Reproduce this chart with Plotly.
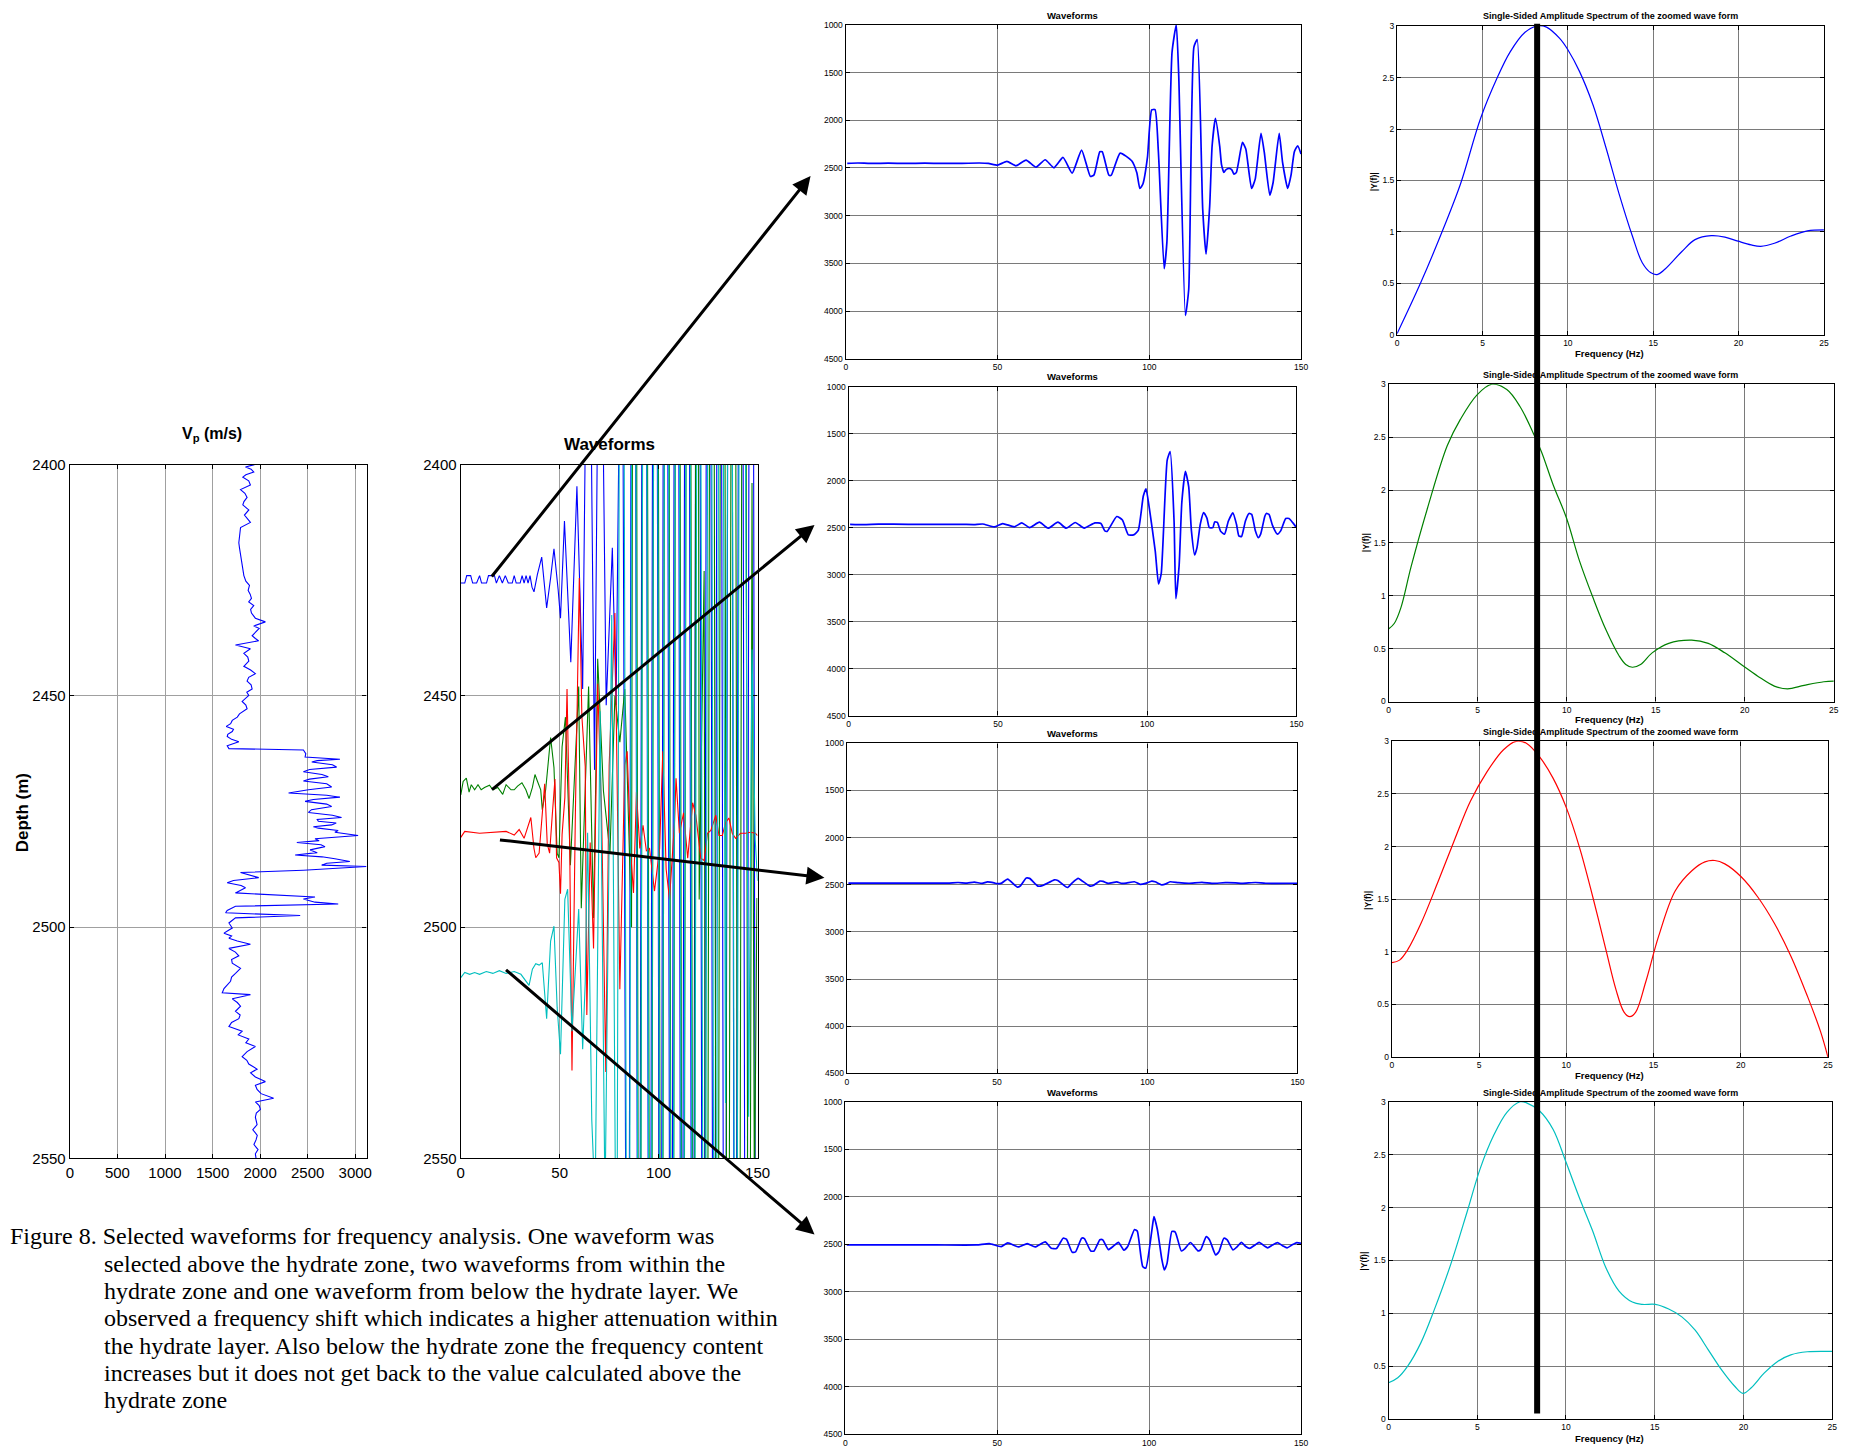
import plotly.graph_objects as go

W, H = 1861, 1454

# ---------------------------------------------------------------- data
# Vp log: (depth m, Vp m/s)
VP_LOG = [
    (2400.0, 1940), (2400.5, 1846), (2401.0, 1905), (2401.6, 1933), (2402.2, 1850), (2402.7, 1818),
    (2403.5, 1880), (2404.4, 1898), (2405.4, 1794), (2406.2, 1840), (2407.1, 1863), (2408.0, 1830),
    (2408.7, 1818), (2409.8, 1881), (2410.9, 1835), (2411.7, 1870), (2412.5, 1898), (2413.6, 1794),
    (2415.3, 1783), (2416.9, 1776), (2418.0, 1783), (2419.6, 1797), (2421.8, 1811), (2424.0, 1829),
    (2425.2, 1850), (2426.1, 1888), (2427.2, 1874), (2428.0, 1895), (2428.9, 1909), (2429.7, 1880),
    (2430.5, 1933), (2431.3, 1900), (2432.1, 1909), (2433.2, 1950), (2434.0, 2055), (2434.9, 1933),
    (2435.4, 1990), (2435.9, 1968), (2437.0, 1916), (2437.6, 1950), (2438.1, 1985), (2439.0, 1741),
    (2439.8, 1898), (2440.8, 1829), (2441.6, 1870), (2442.5, 1881), (2443.6, 1829), (2444.4, 1900),
    (2445.2, 1950), (2446.0, 1880), (2446.8, 1863), (2447.6, 1905), (2448.5, 1916), (2449.2, 1860),
    (2449.9, 1881), (2451.2, 1811), (2452.0, 1850), (2452.8, 1863), (2453.9, 1783), (2454.6, 1760),
    (2455.3, 1707), (2456.0, 1690), (2456.6, 1644), (2457.2, 1720), (2457.7, 1707), (2458.3, 1660),
    (2458.8, 1654), (2459.4, 1700), (2459.9, 1776), (2460.8, 1654), (2461.4, 1672),
    (2461.7, 2455), (2462.5, 2480), (2463.2, 2473), (2463.7, 2839), (2464.0, 2600), (2464.3, 2543),
    (2464.9, 2760), (2465.4, 2804), (2465.9, 2520), (2466.4, 2455), (2467.0, 2650), (2467.5, 2717),
    (2468.0, 2520), (2468.4, 2455), (2469.0, 2700), (2469.7, 2752), (2470.3, 2508), (2471.0, 2299),
    (2471.5, 2700), (2471.9, 2839), (2472.4, 2560), (2472.8, 2473), (2473.4, 2700), (2473.9, 2752),
    (2474.6, 2540), (2475.2, 2508), (2475.8, 2760), (2476.3, 2856), (2476.7, 2600), (2477.1, 2612),
    (2477.5, 2800), (2477.9, 2752), (2478.3, 2560), (2478.6, 2612), (2479.1, 2820), (2479.5, 2786),
    (2480.2, 3030), (2480.9, 2577), (2481.3, 2620), (2481.7, 2386), (2482.2, 2640), (2482.6, 2682),
    (2483.3, 2525), (2483.9, 2600), (2484.4, 2368), (2484.8, 2650), (2485.2, 2786), (2485.8, 2943),
    (2486.2, 2700), (2486.6, 2647), (2486.9, 3117), (2487.7, 2455), (2488.2, 1794), (2488.8, 1900),
    (2489.3, 1985), (2489.9, 1720), (2490.4, 1654), (2491.0, 1800), (2491.5, 1846), (2492.6, 1741),
    (2493.5, 2577), (2493.9, 2455), (2494.6, 2577), (2495.0, 2821), (2495.5, 1741), (2496.4, 1654),
    (2496.9, 1637), (2497.5, 2421), (2498.0, 1741), (2499.1, 1672), (2500.2, 1707), (2500.8, 1660),
    (2501.3, 1620), (2501.9, 1700), (2502.4, 1672), (2503.0, 1760), (2503.7, 1898), (2504.6, 1672),
    (2505.4, 1740), (2506.2, 1776), (2507.0, 1700), (2507.8, 1707), (2508.9, 1794), (2510.0, 1741),
    (2510.8, 1700), (2511.7, 1689), (2512.5, 1650), (2513.3, 1620), (2514.2, 1602), (2514.6, 1898),
    (2515.5, 1707), (2516.3, 1760), (2517.1, 1794), (2518.2, 1741), (2519.0, 1790), (2519.8, 1776),
    (2520.6, 1700), (2521.5, 1672), (2522.5, 1811), (2523.3, 1770), (2524.2, 1881), (2525.0, 1850),
    (2525.8, 1950), (2526.9, 1863), (2528.0, 1811), (2528.8, 1860), (2529.6, 1881), (2530.7, 1968),
    (2531.5, 1900), (2532.4, 1950), (2533.4, 2055), (2534.2, 1950), (2535.1, 1968), (2536.0, 2010),
    (2537.0, 2142), (2537.8, 1950), (2538.6, 1990), (2539.4, 2003), (2540.2, 1960), (2541.1, 1950),
    (2542.7, 1968), (2543.8, 1923), (2545.0, 1970), (2546.0, 1957), (2547.0, 1935), (2548.1, 1978),
    (2549.0, 1950), (2550.0, 1957),
]

# Composite waveform panel: (sample, depth)
MULTI_BLUE = [
    (0, 2425.6), (2, 2425.6), (3, 2424), (5, 2424), (6, 2425.6), (8, 2425.6), (9.5, 2424), (10.5, 2425.6),
    (13, 2425.6), (14, 2424), (17, 2424), (18, 2425.6), (19.5, 2424), (21, 2425.6), (22.5, 2424),
    (24, 2425.6), (26, 2425.6), (27, 2424), (28, 2425.6), (30, 2425.6), (31, 2424), (32, 2425.6),
    (33, 2424), (34, 2425.6), (35, 2424), (36, 2426.5), (37, 2427.5), (38.7, 2423.8), (40.9, 2420.0),
    (42.5, 2428), (43.4, 2431.0), (45.4, 2424.5), (47.1, 2418.2), (49.2, 2427), (50.4, 2433.2),
    (52.4, 2412.2), (55.6, 2442.7), (58.7, 2404.7), (61.6, 2448.5), (64.5, 2330), (67.6, 2466),
    (70.3, 2330), (73.5, 2452), (76.6, 2418), (78.5, 2452), (81.5, 2330),
    (84.5, 2700), (87.2, 2150), (89.9, 2700), (92.8, 2150), (95.4, 2700), (98.1, 2150), (100.9, 2700),
    (103.4, 2150), (106.2, 2700), (109.1, 2150), (111.6, 2700), (114.3, 2150), (117.2, 2700),
    (119.8, 2150), (122.5, 2700), (125.3, 2150), (127.9, 2700), (130.6, 2150), (133.4, 2700),
    (136.1, 2150), (138.7, 2700), (141.5, 2150), (144.2, 2700), (146.8, 2150), (149.5, 2700),
]
MULTI_GREEN = [
    (0, 2471.4), (1.2, 2468.5), (2.8, 2467.8), (4.2, 2470.8), (5.3, 2469.2), (7, 2470.3), (8.7, 2469.2),
    (10.3, 2470.3), (12, 2469.8), (14.5, 2469.3), (16.2, 2470.3), (18.7, 2469.8), (21.2, 2471.3),
    (22.9, 2469.2), (25.4, 2470.3), (27, 2470.3), (28.7, 2469.5), (30.9, 2468.8), (32.9, 2470.3),
    (34.5, 2472.2), (36.2, 2469.8), (37.5, 2467.0), (38.7, 2468.4), (40.4, 2470.3), (41.2, 2474.6),
    (42.9, 2470.3), (45.4, 2459), (47.1, 2465.5), (48.7, 2484), (49.6, 2485), (51.2, 2461),
    (52.9, 2454.6), (55.4, 2486.6), (57.1, 2470.5), (59.6, 2448), (60.9, 2495.9), (62.9, 2471.7),
    (64.6, 2448), (67.1, 2498), (69.2, 2442), (72.1, 2470.5), (75.4, 2484), (77.9, 2450), (80.4, 2460),
    (82.9, 2448.5), (84.6, 2471.7), (86.3, 2500),
    (87.8, 2150), (90.3, 2700), (93.1, 2150), (96.0, 2700), (98.6, 2150), (101.5, 2700), (104.1, 2150),
    (106.9, 2700), (109.7, 2150), (112.3, 2700), (115.1, 2150), (117.8, 2700), (119.4, 2150),
    (120.5, 2494), (123.0, 2423), (124.2, 2700), (126.9, 2150), (129.6, 2700), (132.4, 2150),
    (135.0, 2700), (137.8, 2150), (140.5, 2700), (143.2, 2150), (145.6, 2700), (147.2, 2404),
    (148.4, 2560), (149.7, 2493.7),
]
MULTI_RED = [
    (0, 2480.6), (2, 2479.3), (9.5, 2479.7), (19.5, 2479.5), (22.9, 2479.3), (27, 2480.1), (29.5, 2478.9),
    (32, 2480.8), (33.7, 2478.6), (35.4, 2476.3), (37, 2483), (37.9, 2485), (39.6, 2484), (41.2, 2475.5),
    (42.4, 2469), (43.7, 2482), (44.9, 2484), (46.2, 2476), (47.6, 2468), (48.4, 2485), (49.6, 2486),
    (50.4, 2492.8), (51.2, 2480), (52.6, 2472), (53.7, 2448.5), (54.9, 2476), (56.2, 2531), (57.9, 2476),
    (59.9, 2424.5), (61.2, 2454.4), (62.9, 2465.3), (63.7, 2519), (65.4, 2481.7), (67.1, 2504.6),
    (69.2, 2447.4), (71.2, 2476), (73.3, 2531.3), (75, 2465), (77.9, 2432.1), (80.4, 2513.4),
    (82.9, 2465), (84.1, 2462), (85.9, 2484), (87.3, 2492.6), (88.8, 2470.8), (90.5, 2483), (92.1, 2478),
    (93.8, 2483.5), (95.4, 2483), (97.9, 2492.2), (100.5, 2483), (102.1, 2462), (103.8, 2487.5),
    (105.5, 2494), (108, 2477.6), (108.8, 2467.8), (110.5, 2479.7), (112.6, 2475.3), (114.7, 2485.1),
    (117.2, 2473.1), (118.8, 2475.8), (121.3, 2485.1), (123, 2485.6), (124.7, 2479.7), (126.4, 2479.1),
    (128.9, 2475.8), (130.5, 2480.2), (132.2, 2480.2), (133.8, 2477.5), (135.5, 2476.4), (137.2, 2479.7),
    (138.9, 2480.8), (141.4, 2479.7), (143.9, 2479.7), (146.4, 2479.5), (148.9, 2479.7), (150, 2480.2),
]
MULTI_CYAN = [
    (0, 2510.9), (2, 2509.8), (4.5, 2510.2), (7, 2509.8), (9.5, 2510.2), (12.9, 2509.6), (16.2, 2510),
    (19.5, 2509.4), (22.9, 2510), (27, 2509.6), (30.4, 2510.2), (34.5, 2512.6), (36.2, 2509.1),
    (37.9, 2507.9), (39.6, 2508.2), (41.2, 2507.7), (43.4, 2519.8), (45.4, 2503), (47.1, 2499.8),
    (48.7, 2517.3), (50.4, 2527.5), (52.6, 2494), (54, 2491.8), (56.2, 2522.5), (59.6, 2496.1),
    (61.6, 2526.4), (62.9, 2512), (64.1, 2479.6), (66.2, 2541.6), (67.9, 2560), (70.4, 2453.3),
    (72.9, 2560), (76.3, 2432.5), (78.8, 2600),
    (81.3, 2200), (84.6, 2700), (87.4, 2200), (90.2, 2700), (93.0, 2200), (95.7, 2700), (98.5, 2200),
    (101.2, 2700), (104.0, 2200), (106.7, 2700), (109.5, 2200), (112.1, 2700), (114.9, 2200),
    (117.6, 2700), (120.3, 2200), (123.1, 2700), (125.8, 2200), (128.6, 2700), (131.3, 2200),
    (133.8, 2538), (136.2, 2200), (139.0, 2700), (141.7, 2200), (145.5, 2541), (147.2, 2440),
    (148.8, 2481), (150, 2490),
]

# Zoomed waveforms: (sample, amplitude)
WAVE_1 = [
    (0.5, 2452), (4, 2448), (8, 2452), (14, 2450), (20, 2452), (26, 2450), (32, 2452), (38, 2452),
    (44, 2448), (47, 2452), (50, 2470), (53.1, 2431), (56.1, 2477), (59.4, 2417), (62.7, 2491),
    (65.7, 2414), (68.6, 2498), (71.6, 2390), (74.6, 2554), (77.7, 2312), (80.6, 2589), (81.8, 2572),
    (83.7, 2330), (84.5, 2330), (86.7, 2575), (87.5, 2575), (90.4, 2344), (94.2, 2424), (95.9, 2550),
    (96.9, 2715), (97.9, 2668), (99.4, 2390), (100.8, 1892), (101.9, 1889), (103, 2330), (104.9, 3555),
    (105.8, 3280), (107.5, 1287), (108.9, 1000), (109.7, 1530), (111.9, 4045), (113, 3770),
    (114.7, 1234), (115.8, 1154), (117.6, 2930), (118.7, 3404), (119.9, 2900), (120.7, 2270),
    (121.8, 1980), (123.2, 2270), (123.8, 2465), (124.6, 2547), (125.2, 2520), (126.3, 2505),
    (127.2, 2520), (127.9, 2564), (128.7, 2546), (130.7, 2232), (131.8, 2302), (133.7, 2715),
    (134.9, 2617), (136.8, 2137), (137.9, 2337), (139.7, 2785), (140.8, 2652), (142.8, 2137),
    (143.9, 2438), (145.6, 2715), (146.7, 2575), (147.8, 2330), (148.9, 2267), (150, 2354),
]
WAVE_2 = [
    (0.5, 2465), (5, 2468), (10, 2464), (20, 2465), (30, 2465), (38, 2466), (42, 2468), (44.9, 2462),
    (48.8, 2492), (51.6, 2457), (55.5, 2492), (58, 2450), (60.6, 2500), (63.9, 2443), (66.8, 2507),
    (70.1, 2443), (72.9, 2507), (75.9, 2446), (78.9, 2505), (82.5, 2450), (84.5, 2457), (85.8, 2535),
    (86.6, 2540), (89.8, 2382), (91.7, 2420), (93.7, 2578), (95.4, 2578), (97, 2530), (98.7, 2165),
    (99.6, 2087), (100.7, 2290), (102.7, 2750), (103.8, 3100), (104.7, 2990), (106.7, 1782),
    (107.7, 1693), (109, 2430), (109.6, 3256), (110.7, 2900), (111.6, 2230), (112.8, 1902),
    (113.9, 2065), (114.8, 2530), (115.9, 2791), (116.7, 2710), (117.8, 2460), (118.9, 2340),
    (120, 2400), (120.8, 2500), (122, 2500), (122.6, 2440), (123.5, 2445), (124.6, 2540), (125.9, 2570),
    (127.2, 2430), (128.7, 2343), (129.9, 2465), (130.7, 2588), (131.6, 2595), (132.9, 2430),
    (134.1, 2350), (135, 2360), (136.2, 2530), (137.2, 2606), (138, 2570), (139.4, 2380), (139.9, 2350),
    (140.8, 2360), (142, 2480), (143.6, 2570), (144.7, 2535), (146.4, 2404), (147.5, 2404),
    (148.8, 2450), (150, 2500),
]
WAVE_3 = [
    (0.5, 2482), (10, 2482), (20, 2482), (33.5, 2482), (37, 2476), (40, 2482), (42.4, 2472), (45, 2485),
    (46.8, 2470), (49, 2480), (50, 2488), (51.5, 2482), (53.5, 2440), (56.7, 2525), (57.8, 2510),
    (59.7, 2429), (60.8, 2432), (63.6, 2514), (64.8, 2512), (69.1, 2447), (70.2, 2454), (73.4, 2529),
    (75, 2480), (77, 2433), (78.1, 2454), (80.9, 2514), (82, 2508), (84.2, 2461), (85.3, 2464),
    (87, 2485), (89.8, 2470), (91.5, 2485), (93, 2482), (95.7, 2468), (97.6, 2495), (99.4, 2485),
    (101.5, 2461), (102.6, 2468), (104.8, 2500), (106.2, 2490), (107.6, 2468), (110.4, 2478),
    (113.8, 2484), (118.2, 2474), (121.5, 2485), (126, 2478), (129.4, 2480), (131.6, 2485),
    (136, 2476), (139.4, 2484), (150, 2484),
]
WAVE_4 = [
    (0.5, 2506), (10, 2506), (20, 2506), (30, 2506), (43.2, 2506), (47.4, 2492), (51.3, 2523),
    (53.5, 2485), (57, 2527), (59.9, 2492), (62.5, 2527), (65.8, 2474), (67.8, 2541), (69.5, 2544),
    (71.7, 2435), (72.8, 2446), (74.7, 2583), (75.8, 2579), (77.8, 2435), (78.7, 2440), (80.8, 2569),
    (81.9, 2569), (83.8, 2452), (84.7, 2452), (86.6, 2555), (88.2, 2520), (89.9, 2478), (91.7, 2562),
    (93, 2520), (95.2, 2343), (96.1, 2360), (97.9, 2734), (98.9, 2751), (101, 2330), (101.6, 2207),
    (102.7, 2340), (104.2, 2660), (105, 2770), (105.9, 2700), (107.5, 2363), (108.6, 2370),
    (110.6, 2569), (111.7, 2548), (113.6, 2480), (114.7, 2516), (116.1, 2569), (117, 2555),
    (118.8, 2418), (119.9, 2453), (121.9, 2611), (123, 2576), (124.6, 2435), (125.7, 2453),
    (127.6, 2558), (129, 2523), (130.4, 2478), (131.8, 2523), (133.1, 2541), (134.9, 2506),
    (136.2, 2478), (137.9, 2516), (139, 2537), (140.6, 2506), (142.3, 2481), (144, 2516),
    (145.4, 2537), (147, 2506), (148.6, 2481), (150, 2488),
]

# Amplitude spectra: (frequency Hz, |Y(f)|)
SPEC_1 = [
    (0, 0.013), (1.39, 0.51), (2.75, 1.05), (3.72, 1.47), (4.88, 2.10), (5.84, 2.49), (6.62, 2.75),
    (7.49, 2.94), (8.17, 3.0), (8.75, 2.99), (9.52, 2.88), (10.0, 2.77), (10.68, 2.56), (11.46, 2.24),
    (12.23, 1.82), (13.0, 1.37), (13.78, 0.96), (14.36, 0.70), (14.84, 0.605), (15.23, 0.586),
    (15.7, 0.64), (16.68, 0.81), (17.45, 0.925), (18.4, 0.964), (19.2, 0.95), (19.97, 0.91),
    (20.74, 0.874), (21.3, 0.86), (22.1, 0.89), (23.07, 0.96), (24.03, 1.01), (25, 1.02),
]
SPEC_2 = [
    (0, 0.685), (0.33, 0.74), (0.7, 0.89), (1.26, 1.27), (2.19, 1.83), (3.3, 2.42), (4.04, 2.67),
    (4.97, 2.9), (5.8, 3.0), (6.64, 2.95), (7.38, 2.79), (8.12, 2.54), (8.59, 2.36), (9.24, 2.05),
    (9.98, 1.74), (10.72, 1.33), (11.46, 0.99), (12.2, 0.68), (12.95, 0.43), (13.32, 0.35),
    (13.69, 0.324), (14.15, 0.35), (14.8, 0.46), (15.73, 0.55), (17.02, 0.58), (17.95, 0.55),
    (18.88, 0.46), (19.8, 0.35), (20.73, 0.24), (21.66, 0.146), (22.4, 0.12), (23.33, 0.153),
    (24.44, 0.187), (25, 0.193),
]
SPEC_3 = [
    (0, 0.896), (0.44, 0.92), (0.91, 1.02), (1.67, 1.27), (2.61, 1.65), (3.56, 2.05), (4.5, 2.43),
    (5.45, 2.71), (6.4, 2.92), (7.12, 3.0), (7.73, 2.98), (8.48, 2.85), (9.24, 2.65), (10.0, 2.37),
    (10.76, 1.99), (11.52, 1.52), (12.27, 1.02), (12.84, 0.645), (13.31, 0.426), (13.64, 0.382),
    (13.98, 0.426), (14.55, 0.71), (15.3, 1.15), (16.25, 1.58), (17.2, 1.77), (17.95, 1.854),
    (18.52, 1.867), (19.09, 1.835), (20.04, 1.71), (20.98, 1.52), (21.93, 1.27), (22.88, 0.958),
    (23.82, 0.58), (24.58, 0.24), (25, 0.0),
]
SPEC_4 = [
    (0, 0.343), (0.52, 0.39), (1.08, 0.50), (1.82, 0.72), (2.57, 1.03), (3.5, 1.46), (4.43, 1.96),
    (5.17, 2.37), (5.92, 2.68), (6.67, 2.90), (7.41, 3.0), (7.78, 2.99), (8.53, 2.91), (9.27, 2.74),
    (10.0, 2.43), (10.76, 2.09), (11.5, 1.78), (12.25, 1.43), (12.99, 1.21), (13.74, 1.106),
    (14.3, 1.084), (15.04, 1.084), (15.79, 1.04), (16.53, 0.966), (17.28, 0.84), (18.02, 0.654),
    (18.76, 0.467), (19.51, 0.31), (19.97, 0.243), (20.44, 0.296), (21.18, 0.436), (21.93, 0.545),
    (22.67, 0.607), (23.6, 0.636), (25, 0.639),
]
MARKER_FREQ = 8.2  # Hz, thick vertical reference line across the spectra

VP_TICKS = [0, 500, 1000, 1500, 2000, 2500, 3000]
DEPTH_TICKS = [2400, 2450, 2500, 2550]
SAMPLE_TICKS = [0, 50, 100, 150]
AMP_TICKS = [1000, 1500, 2000, 2500, 3000, 3500, 4000, 4500]
FREQ_TICKS = [0, 5, 10, 15, 20, 25]
SPEC_TICKS = [0, 0.5, 1, 1.5, 2, 2.5, 3]
SPEC_TICKTEXT = ["0", "0.5", "1", "1.5", "2", "2.5", "3"]

CAPTION = [
    "Figure 8. Selected waveforms for frequency analysis. One waveform was",
    "selected above the hydrate zone, two waveforms from within the",
    "hydrate zone and one waveform from below the hydrate layer. We",
    "observed a frequency shift which indicates a higher attenuation within",
    "the hydrate layer. Also below the hydrate zone the frequency content",
    "increases but it does not get back to the value calculated above the",
    "hydrate zone",
]

BLUE, GREEN, RED, CYAN = "#0000ff", "#008000", "#ff0000", "#00bfbf"

# ---------------------------------------------------------------- layout helpers
def dx(a, b):
    return [a / W, b / W]


def dy(top, bottom):
    return [1 - bottom / H, 1 - top / H]


SANS = "Liberation Sans, Arial, sans-serif"
SERIF = "Liberation Serif, Times New Roman, serif"

# (x-domain px, y-domain px) for the ten axes
PANELS = [
    ((66.5, 366), (461, 1163)),        # 1 Vp log
    ((461, 760.5), (461, 1163)),       # 2 composite waveforms
    ((849.5, 1309), (16, 354)),        # 3 wave 1
    ((852.4, 1304.4), (382, 715)),     # 4 wave 2
    ((850.7, 1305.4), (743, 1077)),    # 5 wave 3
    ((849, 1309), (1106, 1442)),       # 6 wave 4
    ((1406, 1836.7), (17.3, 329.7)),   # 7 spectrum 1
    ((1397.3, 1846.7), (379.7, 700.7)),  # 8 spectrum 2
    ((1400.7, 1840.7), (741, 1060.3)),   # 9 spectrum 3
    ((1397.3, 1845), (1105.7, 1426.7)),  # 10 spectrum 4
]

fig = go.Figure()


def add_line(pairs, idx, color, width, swap=False, shape="linear", smoothing=1.0):
    a = [p[0] for p in pairs]
    b = [p[1] for p in pairs]
    x, y = (b, a) if swap else (a, b)
    sfx = "" if idx == 1 else str(idx)
    line = dict(color=color, width=width, shape=shape)
    if shape == "spline":
        line["smoothing"] = smoothing
    fig.add_trace(go.Scatter(x=x, y=y, mode="lines", line=line,
                             xaxis="x" + sfx, yaxis="y" + sfx, hoverinfo="skip", showlegend=False))


add_line(VP_LOG, 1, BLUE, 1.1, swap=True)
add_line(MULTI_BLUE, 2, BLUE, 1.1)
add_line(MULTI_GREEN, 2, GREEN, 1.1)
add_line(MULTI_RED, 2, RED, 1.1)
add_line(MULTI_CYAN, 2, CYAN, 1.1)
for i, w in enumerate([WAVE_1, WAVE_2, WAVE_3, WAVE_4]):
    add_line(w, 3 + i, BLUE, 1.7, shape="spline", smoothing=0.5)
for i, (s, c) in enumerate(zip([SPEC_1, SPEC_2, SPEC_3, SPEC_4], [BLUE, GREEN, RED, CYAN])):
    add_line(s, 7 + i, c, 1.2, shape="spline", smoothing=1.0)

layout = dict(width=W, height=H, margin=dict(l=0, r=0, t=0, b=0), paper_bgcolor="white",
              plot_bgcolor="white", showlegend=False)


def axis_style(size, grid):
    return dict(showline=True, linecolor="black", linewidth=1.4, mirror="ticks", ticks="inside",
                ticklen=4, tickcolor="black", showgrid=True, gridcolor=grid, gridwidth=1,
                zeroline=False, tickfont=dict(family=SANS, size=size, color="black"))


for i, ((x0, x1), (y0, y1)) in enumerate(PANELS, start=1):
    sfx = "" if i == 1 else str(i)
    big = i <= 2
    st = axis_style(15 if big else 8.5, "#a0a0a0" if big else "#7a7a7a")
    xa = dict(st, domain=dx(x0, x1), anchor="y" + sfx)
    ya = dict(st, domain=dy(y0, y1), anchor="x" + sfx)
    if i == 1:
        xa.update(range=[0, 3120], tickvals=VP_TICKS)
        ya.update(range=[2550, 2400], tickvals=DEPTH_TICKS)
    elif i == 2:
        xa.update(range=[0, 150], tickvals=SAMPLE_TICKS)
        ya.update(range=[2550, 2400], tickvals=DEPTH_TICKS)
    elif i <= 6:
        xa.update(range=[0, 150], tickvals=SAMPLE_TICKS)
        ya.update(range=[4500, 1000], tickvals=AMP_TICKS)
    else:
        xa.update(range=[0, 25], tickvals=FREQ_TICKS)
        ya.update(range=[0, 3], tickvals=SPEC_TICKS, ticktext=SPEC_TICKTEXT)
    layout["xaxis" + sfx] = xa
    layout["yaxis" + sfx] = ya

fig.update_layout(**layout)

ann = []


def txt(text, x, y, size, family=SANS, angle=0, xanchor="center"):
    ann.append(dict(text=text, x=x / W, y=1 - y / H, xref="paper", yref="paper", showarrow=False,
                    xanchor=xanchor, yanchor="middle", textangle=angle,
                    font=dict(family=family, size=size, color="black")))


txt("<b>V<sub>p</sub> (m/s)</b>", 210, 431, 16)
txt("<b>Depth (m)</b>", 19, 813, 17, angle=-90)
txt("<b>Waveforms</b>", 611, 441, 17)
for yy in [7, 372, 733, 1096]:
    txt("<b>Waveforms</b>", 1078, yy, 9.5)
for yy in [7.3, 370, 732, 1097]:
    txt("<b>Single-Sided Amplitude Spectrum of the zoomed wave form</b>", 1621, yy, 9)
for yy in [349, 719, 1079, 1446]:
    txt("<b>Frequency (Hz)</b>", 1620, yy, 9.5)
for xx, yy in [(1383, 175), (1374, 540), (1377, 902), (1373, 1267)]:
    txt("<b>|Y(f)|</b>", xx, yy, 8.5, angle=-90)

for k, line in enumerate(CAPTION):
    txt(line, 4 if k == 0 else 98.5, 1241.7 + 27.7 * k, 24, family=SERIF, xanchor="left")

# arrows from the composite panel to the zoomed panels: (tail px, head px)
ARROWS = [((494, 571), (814, 169)), ((494, 788), (818, 522)),
          ((502, 841), (828, 879)), ((508, 974), (818, 1240))]
for (tx, ty), (hx, hy) in ARROWS:
    ann.append(dict(text="", x=hx / W, y=1 - hy / H, xref="paper", yref="paper", showarrow=True,
                    ax=tx - hx, ay=ty - hy, axref="pixel", ayref="pixel", arrowhead=2,
                    arrowsize=1.2, arrowwidth=3, arrowcolor="black"))

fig.update_layout(annotations=ann)

# thick vertical marker through the four spectra (at MARKER_FREQ on spectrum 1 scale)
sx0, sx1 = PANELS[6][0]
mx = sx0 + (sx1 - sx0) * MARKER_FREQ / 25.0
fig.add_shape(type="line", xref="paper", yref="paper", x0=mx / W, x1=mx / W,
              y0=1 - 15 / H, y1=1 - 1421 / H, line=dict(color="black", width=6))

fig.write_html("out.html")
